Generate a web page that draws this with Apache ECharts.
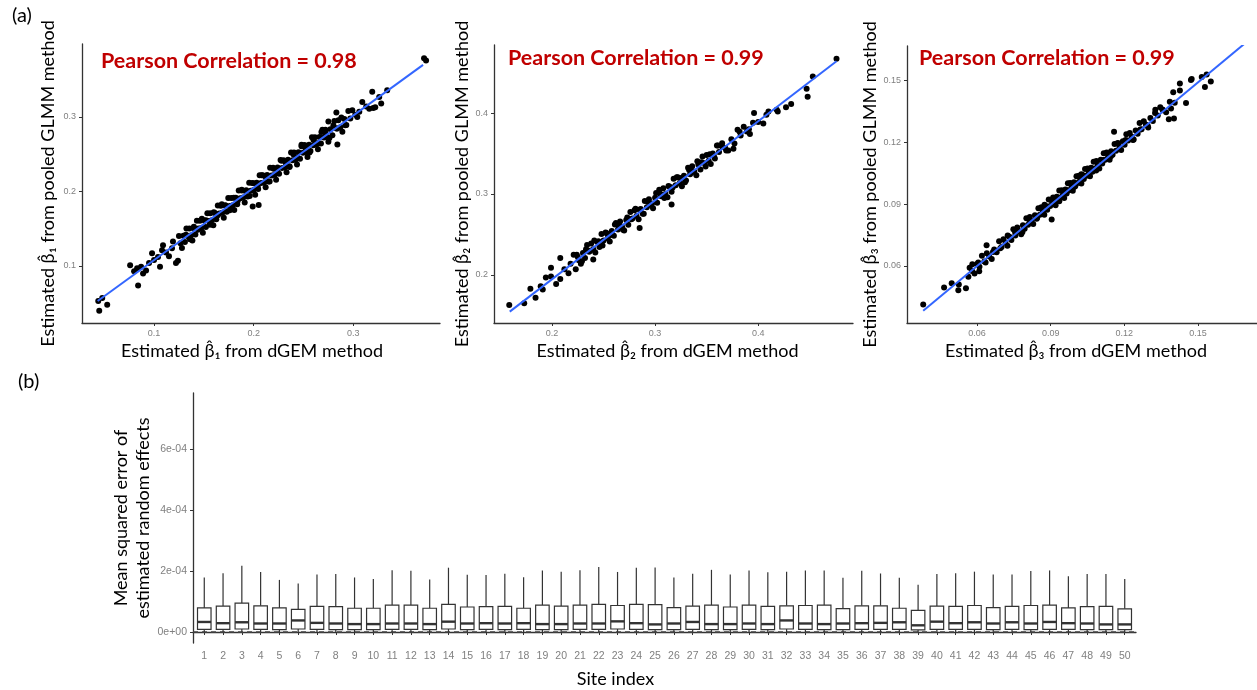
<!DOCTYPE html>
<html>
<head>
<meta charset="utf-8">
<script src="https://cdn.jsdelivr.net/npm/echarts@6/dist/echarts.min.js"></script>
<style>
html, body { margin: 0; padding: 0; background: #fff; }
#main { width: 1257px; height: 690px; }
</style>
</head>
<body>
<div id="main"></div>
<script>
// (a) estimated coefficients: [dGEM, pooled GLMM]
var beta1Points = [
	[0.044,0.053],[0.045,0.040],[0.053,0.048],[0.048,0.057],[0.076,0.101],[0.084,0.074],[0.080,0.093],[0.089,0.090],
	[0.083,0.097],[0.092,0.094],[0.087,0.099],[0.095,0.104],[0.098,0.117],[0.106,0.099],[0.109,0.128],[0.122,0.104],
	[0.119,0.133],[0.100,0.108],[0.104,0.112],[0.112,0.118],[0.115,0.113],[0.118,0.124],[0.108,0.121],[0.124,0.107],
	[0.1250,0.1403],[0.1265,0.1307],[0.1280,0.1242],[0.1295,0.1406],[0.1310,0.1321],[0.1325,0.1505],[0.1340,0.1400],
	[0.1355,0.1504],[0.1370,0.1409],[0.1385,0.1343],[0.1400,0.1508],[0.1415,0.1423],[0.1430,0.1607],[0.1445,0.1502],
	[0.1460,0.1606],[0.1475,0.1511],[0.1490,0.1445],[0.1505,0.1610],[0.1520,0.1524],[0.1535,0.1709],[0.1550,0.1604],
	[0.1565,0.1708],[0.1580,0.1613],[0.1595,0.1547],[0.1610,0.1712],[0.1625,0.1626],[0.1640,0.1811],[0.1655,0.1705],
	[0.1670,0.1810],[0.1685,0.1714],[0.1700,0.1649],[0.1715,0.1814],[0.1730,0.1728],[0.1745,0.1913],[0.1760,0.1807],
	[0.1775,0.1912],[0.1790,0.1816],[0.1805,0.1751],[0.1820,0.1915],[0.1835,0.1830],[0.1850,0.2015],[0.1865,0.1909],
	[0.1880,0.2014],[0.1895,0.1918],[0.1910,0.1853],[0.1925,0.2017],[0.1940,0.1932],[0.1955,0.2116],[0.1970,0.2011],
	[0.1985,0.2115],[0.2000,0.2020],[0.2015,0.1955],[0.2030,0.2119],[0.2045,0.2034],[0.2060,0.2218],[0.2075,0.2113],
	[0.2090,0.2217],[0.2105,0.2122],[0.2120,0.2056],[0.2135,0.2221],[0.2150,0.2136],[0.2165,0.2320],[0.2180,0.2215],
	[0.2195,0.2319],[0.2210,0.2224],[0.2225,0.2158],[0.2240,0.2323],[0.2255,0.2237],[0.2270,0.2422],[0.2285,0.2316],
	[0.2300,0.2421],[0.2315,0.2326],[0.2330,0.2260],[0.2345,0.2425],[0.2360,0.2339],[0.2375,0.2524],[0.2390,0.2418],
	[0.2405,0.2523],[0.2420,0.2427],[0.2435,0.2362],[0.2450,0.2527],[0.2465,0.2441],[0.2480,0.2626],[0.2495,0.2520],
	[0.2510,0.2625],[0.2525,0.2529],[0.2540,0.2464],[0.2555,0.2628],[0.2570,0.2543],[0.2585,0.2727],[0.2600,0.2622],
	[0.2615,0.2727],[0.2630,0.2631],[0.2645,0.2566],[0.2660,0.2730],[0.2675,0.2645],[0.2690,0.2829],[0.2705,0.2724],
	[0.2720,0.2828],[0.2735,0.2733],[0.2750,0.2668],[0.2770,0.2837],[0.2790,0.2756],[0.2810,0.2946],[0.2830,0.2845],
	[0.2850,0.2955],[0.2870,0.2864],[0.2890,0.2803],[0.2910,0.2973],[0.2930,0.2892],[0.2950,0.3082],[0.2970,0.2981],
	[0.2990,0.3090],[0.205,0.182],[0.199,0.180],[0.283,0.306],[0.284,0.263],[0.275,0.294],[0.292,0.289],[0.302,0.303],
	[0.304,0.300],[0.306,0.307],[0.309,0.320],[0.313,0.314],[0.316,0.311],[0.319,0.334],[0.320,0.312],[0.322,0.313],
	[0.326,0.327],[0.328,0.318],[0.334,0.336],[0.371,0.379],[0.373,0.376],
	[0.1320,0.1420],[0.1360,0.1359],[0.1400,0.1528],[0.1440,0.1487],[0.1480,0.1636],[0.1520,0.1614],[0.1560,0.1553],
	[0.1600,0.1722],[0.1640,0.1681],[0.1680,0.1830],[0.1720,0.1808],[0.1760,0.1747],[0.1800,0.1916],[0.1840,0.1875],
	[0.1880,0.2024],[0.1920,0.2002],[0.1960,0.1941],[0.2000,0.2110],[0.2040,0.2069],[0.2080,0.2218],[0.2120,0.2196],
	[0.2160,0.2135],[0.2200,0.2304],[0.2240,0.2263],[0.2280,0.2412],[0.2320,0.2390],[0.2360,0.2329],[0.2400,0.2498],
	[0.2440,0.2457],[0.2480,0.2606],[0.2520,0.2584],[0.2560,0.2523],[0.2600,0.2692],[0.2640,0.2651],[0.2680,0.2800],
	[0.2720,0.2778],[0.2760,0.2717],[0.2800,0.2886],[0.2840,0.2845],[0.2880,0.2994]
];
var beta2Points = [
	[0.1585,0.163],[0.173,0.165],[0.179,0.183],[0.184,0.172],[0.189,0.186],[0.191,0.182],[0.194,0.197],[0.199,0.198],
	[0.199,0.209],[0.204,0.189],[0.208,0.221],[0.208,0.195],[0.216,0.202],[0.223,0.207],[0.221,0.225],[0.212,0.207],
	[0.218,0.214],[0.240,0.219],[0.285,0.258],[0.316,0.287],
	[0.224,0.2251],[0.226,0.2181],[0.228,0.2140],[0.230,0.2270],[0.232,0.2209],[0.234,0.2369],[0.236,0.2288],
	[0.238,0.2388],[0.240,0.2317],[0.242,0.2277],[0.244,0.2406],[0.246,0.2346],[0.248,0.2505],[0.250,0.2425],
	[0.252,0.2525],[0.254,0.2454],[0.256,0.2414],[0.258,0.2543],[0.260,0.2483],[0.262,0.2642],[0.264,0.2562],
	[0.266,0.2661],[0.268,0.2591],[0.270,0.2550],[0.272,0.2680],[0.274,0.2619],[0.276,0.2779],[0.278,0.2698],
	[0.280,0.2798],[0.282,0.2727],[0.284,0.2687],[0.286,0.2816],[0.288,0.2756],[0.290,0.2915],[0.292,0.2835],
	[0.294,0.2934],[0.296,0.2864],[0.298,0.2823],[0.300,0.2953],[0.302,0.2893],[0.304,0.3052],[0.306,0.2972],
	[0.308,0.3071],[0.310,0.3001],[0.312,0.2960],[0.314,0.3090],[0.316,0.3029],[0.318,0.3189],[0.320,0.3108],
	[0.322,0.3208],[0.324,0.3137],[0.326,0.3097],[0.328,0.3226],[0.330,0.3166],[0.332,0.3325],[0.334,0.3245],
	[0.336,0.3344],[0.338,0.3274],[0.340,0.3233],[0.342,0.3363],[0.344,0.3302],[0.346,0.3462],[0.348,0.3381],
	[0.350,0.3481],[0.352,0.3410],[0.354,0.3370],[0.356,0.3500],[0.358,0.3439],[0.360,0.3599],[0.362,0.3518],
	[0.365,0.3627],[0.368,0.3567],[0.371,0.3536],[0.374,0.3675],[0.377,0.3625],[0.380,0.3794],[0.383,0.3723],
	[0.386,0.3832],[0.389,0.3772],[0.392,0.3741],[0.395,0.3880],
	[0.376,0.356],[0.391,0.380],[0.382,0.377],[0.396,0.400],[0.405,0.387],[0.408,0.398],[0.410,0.402],[0.400,0.389],
	[0.418,0.404],[0.419,0.402],[0.427,0.407],[0.432,0.411],[0.447,0.430],[0.448,0.420],[0.453,0.445],[0.476,0.467],
	[0.2250,0.2221],[0.2290,0.2170],[0.2330,0.2319],[0.2370,0.2298],[0.2410,0.2427],[0.2450,0.2416],[0.2490,0.2365],
	[0.2530,0.2514],[0.2570,0.2493],[0.2610,0.2622],[0.2650,0.2611],[0.2690,0.2560],[0.2730,0.2709],[0.2770,0.2689],
	[0.2810,0.2818],[0.2850,0.2807],[0.2890,0.2756],[0.2930,0.2905],[0.2970,0.2884],[0.3010,0.3013],[0.3050,0.3002],
	[0.3090,0.2951],[0.3130,0.3100],[0.3170,0.3079],[0.3210,0.3208],[0.3250,0.3197],[0.3290,0.3146],[0.3330,0.3295],
	[0.3370,0.3274],[0.3410,0.3403],[0.3450,0.3392],[0.3490,0.3341],[0.3530,0.3490],[0.3570,0.3469],[0.3610,0.3598],
	[0.3650,0.3587],[0.3690,0.3536]
];
var beta3Points = [
	[0.0381,0.0413],[0.0466,0.0496],[0.0497,0.0517],[0.0524,0.0482],[0.0526,0.0510],[0.0555,0.0492],[0.0565,0.0548],
	[0.0581,0.0609],[0.0609,0.0574],[0.0639,0.0700],
	[0.0570,0.0592],[0.0580,0.0576],[0.0590,0.0564],[0.0600,0.0610],[0.0610,0.0596],[0.0620,0.0650],[0.0630,0.0622],
	[0.0640,0.0662],[0.0650,0.0646],[0.0660,0.0634],[0.0670,0.0680],[0.0680,0.0666],[0.0690,0.0720],[0.0700,0.0692],
	[0.0708,0.0730],[0.0716,0.0712],[0.0724,0.0698],[0.0732,0.0742],[0.0740,0.0726],[0.0748,0.0778],[0.0756,0.0748],
	[0.0764,0.0786],[0.0772,0.0768],[0.0780,0.0754],[0.0787,0.0797],[0.0794,0.0780],[0.0801,0.0831],[0.0808,0.0800],
	[0.0815,0.0837],[0.0822,0.0818],[0.0829,0.0803],[0.0836,0.0846],[0.0843,0.0829],[0.0850,0.0880],[0.0856,0.0848],
	[0.0862,0.0884],[0.0868,0.0864],[0.0874,0.0848],[0.0880,0.0890],[0.0886,0.0872],[0.0892,0.0922],[0.0898,0.0890],
	[0.0904,0.0825],[0.0910,0.0932],[0.0915,0.0911],[0.0920,0.0894],[0.0925,0.0935],[0.0930,0.0916],[0.0935,0.0965],
	[0.0940,0.0932],[0.0945,0.0967],[0.0950,0.0946],[0.0955,0.0929],[0.0960,0.0970],[0.0965,0.0951],[0.0970,0.1000],
	[0.0975,0.0967],[0.0980,0.1002],[0.0985,0.0981],[0.0990,0.0964],[0.0995,0.1005],[0.1000,0.0986],[0.1005,0.1035],
	[0.1010,0.1002],[0.1015,0.1037],[0.1020,0.1016],[0.1025,0.0999],[0.1030,0.1040],[0.1035,0.1021],[0.1040,0.1070],
	[0.1045,0.1037],[0.1050,0.1072],[0.1055,0.1051],[0.1060,0.1034],[0.1065,0.1075],[0.1070,0.1056],[0.1075,0.1105],
	[0.1080,0.1072],[0.1086,0.1108],[0.1092,0.1088],[0.1098,0.1072],[0.1104,0.1114],[0.1110,0.1096],[0.1116,0.1146],
	[0.1122,0.1114],[0.1128,0.1150],[0.1134,0.1130],[0.1140,0.1114],[0.1146,0.1156],[0.1152,0.1138],[0.1158,0.1250],
	[0.1160,0.1190],[0.1166,0.1158],[0.1173,0.1195],[0.1180,0.1176],[0.1187,0.1161],[0.1194,0.1204],[0.1201,0.1187],
	[0.1208,0.1238],[0.1215,0.1207],[0.1222,0.1244],[0.1230,0.1226],[0.1238,0.1212],[0.1246,0.1256],[0.1254,0.1240],
	[0.1262,0.1292],[0.1270,0.1262],[0.1279,0.1301],[0.1288,0.1284],[0.1297,0.1271],[0.1306,0.1316],[0.1316,0.1302],
	[0.1326,0.1356],[0.1336,0.1328],[0.1346,0.1368],[0.1358,0.1354],[0.1370,0.1344],[0.1381,0.1310],[0.1385,0.1395],
	[0.1399,0.1441],[0.1402,0.1314],[0.1405,0.1390],[0.1426,0.1449],[0.1426,0.1484],[0.1451,0.1389],[0.1471,0.1501],
	[0.1474,0.1505],[0.1515,0.1515],[0.1528,0.1467],[0.1535,0.1527],[0.1552,0.1493],[0.1691,0.1701],
	[0.0605,0.0617],[0.0635,0.0617],[0.0665,0.0668],[0.0695,0.0686],[0.0725,0.0748],[0.0755,0.0765],[0.0785,0.0765],
	[0.0815,0.0817],[0.0845,0.0834],[0.0875,0.0896],[0.0905,0.0914],[0.0935,0.0913],[0.0965,0.0965],[0.0995,0.0983],
	[0.1025,0.1044],[0.1055,0.1062],[0.1085,0.1062],[0.1115,0.1113],[0.1145,0.1131],[0.1175,0.1193],[0.1205,0.1210],
	[0.1235,0.1210],[0.1265,0.1261],[0.1295,0.1279],[0.1325,0.1341],[0.1355,0.1358],[0.1390,0.1363]
];
// fitted lines, end points
var beta1Fit = [[0.0434,0.053],[0.370,0.370]];
var beta2Fit = [[0.159,0.1547],[0.476,0.464]];
var beta3Fit = [[0.0381,0.0383],[0.1688,0.1675]];

var beta1Ticks = [0.1, 0.2, 0.3];
var beta2Ticks = [0.2, 0.3, 0.4];
var beta3Ticks = [0.06, 0.09, 0.12, 0.15];
var pearsonText = ["Pearson Correlation = 0.98", "Pearson Correlation = 0.99", "Pearson Correlation = 0.99"];

// (b) MSE of random effects per site, in units of 1e-4
var sites = [1,2,3,4,5,6,7,8,9,10,11,12,13,14,15,16,17,18,19,20,21,22,23,24,25,
	26,27,28,29,30,31,32,33,34,35,36,37,38,39,40,41,42,43,44,45,46,47,48,49,50];
var mseMax = [1.79,1.93,2.17,1.97,1.71,1.59,1.89,1.90,1.79,1.74,2.03,2.01,1.72,2.11,1.88,1.87,1.91,1.80,2.02,1.98,2.03,2.13,1.97,2.11,2.12,
	1.79,1.91,2.04,1.89,2.02,1.96,1.98,2.02,2.02,1.78,2.01,1.92,1.78,1.55,1.90,1.93,1.98,1.89,1.89,2.00,2.02,1.83,1.90,1.90,1.74];
var mseQ3 = [0.79,0.85,0.95,0.86,0.79,0.74,0.84,0.83,0.78,0.78,0.88,0.88,0.78,0.91,0.82,0.83,0.84,0.78,0.88,0.85,0.88,0.91,0.87,0.91,0.90,
	0.80,0.85,0.88,0.82,0.88,0.84,0.86,0.87,0.88,0.77,0.86,0.86,0.78,0.71,0.85,0.84,0.87,0.80,0.84,0.87,0.88,0.79,0.83,0.84,0.76];
var mseMedian = [0.33,0.29,0.32,0.28,0.28,0.38,0.30,0.28,0.26,0.26,0.28,0.28,0.26,0.34,0.28,0.29,0.28,0.29,0.26,0.26,0.28,0.28,0.35,0.29,0.25,
	0.28,0.33,0.26,0.26,0.28,0.26,0.38,0.28,0.26,0.28,0.29,0.30,0.32,0.22,0.34,0.29,0.32,0.28,0.32,0.28,0.33,0.29,0.28,0.25,0.25];
var mseQ1 = [0.09,0.09,0.10,0.09,0.08,0.10,0.09,0.08,0.08,0.08,0.09,0.09,0.08,0.10,0.08,0.09,0.08,0.09,0.08,0.08,0.09,0.09,0.10,0.09,0.08,
	0.08,0.09,0.08,0.08,0.09,0.08,0.10,0.09,0.08,0.08,0.09,0.09,0.09,0.07,0.09,0.09,0.09,0.08,0.09,0.08,0.09,0.09,0.08,0.08,0.08];
var mseMin = [0,0,0,0,0,0,0,0,0,0,0,0,0,0,0,0,0,0,0,0,0,0,0,0,0,0,0,0,0,0,0,0,0,0,0,0,0,0,0,0,0,0,0,0,0,0,0,0,0,0];
var mseTicks = [0, 2, 4, 6];
var mseTickLabels = ["0e+00", "2e-04", "4e-04", "6e-04"];

var myChart = echarts.init(document.getElementById("main"));

var titleFont = "Lato, 'DejaVu Sans', sans-serif";
var axisDark = "#333333";
var tickGrey = "#808080";

function scatterAxis(gi, min, max, ticks, name, gap, pad) {
	return {
		type: "value", gridIndex: gi, min: min, max: max,
		name: name, nameLocation: "middle", nameGap: gap,
		nameTextStyle: { fontFamily: titleFont, fontSize: 18, color: "#000", padding: pad || 0 },
		axisLine: { show: true, lineStyle: { color: axisDark, width: 1.3 } },
		axisTick: { show: true, length: 3, customValues: ticks, lineStyle: { color: axisDark } },
		axisLabel: { customValues: ticks, color: tickGrey, fontSize: 9, fontFamily: "Liberation Sans", margin: 6 },
		splitLine: { show: false }
	};
}

function dots(gi, data) {
	return { type: "scatter", xAxisIndex: gi, yAxisIndex: gi, data: data, symbolSize: 6,
		itemStyle: { color: "#000", opacity: 1 } };
}

function fitLine(gi, data) {
	return { type: "line", xAxisIndex: gi, yAxisIndex: gi, data: data, showSymbol: false, z: 5,
		lineStyle: { color: "#3366FF", width: 2 } };
}

var boxData = [];
for (var i = 0; i < sites.length; i++) {
	boxData.push([sites[i], mseMin[i], mseQ1[i], mseMedian[i], mseQ3[i], mseMax[i]]);
}

function renderBox(params, api) {
	var x = api.value(0);
	var lo = api.coord([x, api.value(1)]);
	var q1 = api.coord([x, api.value(2)]);
	var med = api.coord([x, api.value(3)]);
	var q3 = api.coord([x, api.value(4)]);
	var hi = api.coord([x, api.value(5)]);
	var w = api.size([0.72, 0])[0];
	var st = { stroke: axisDark, lineWidth: 1.2, fill: null };
	return {
		type: "group",
		children: [
			{ type: "line", shape: { x1: hi[0], y1: hi[1], x2: q3[0], y2: q3[1] }, style: st },
			{ type: "line", shape: { x1: q1[0], y1: q1[1], x2: lo[0], y2: lo[1] }, style: st },
			{ type: "rect", shape: { x: q3[0] - w / 2, y: q3[1], width: w, height: q1[1] - q3[1] },
				style: { stroke: axisDark, lineWidth: 1.2, fill: "#fff" } },
			{ type: "line", shape: { x1: med[0] - w / 2, y1: med[1], x2: med[0] + w / 2, y2: med[1] },
				style: { stroke: axisDark, lineWidth: 2.4 } }
		]
	};
}

var option = {
	backgroundColor: "#fff",
	animation: false,
	grid: [
		{ left: 82, top: 44, width: 358, height: 279 },
		{ left: 494, top: 45, width: 359, height: 278 },
		{ left: 907, top: 46, width: 350, height: 277 },
		{ left: 193, top: 393, width: 943, height: 250 }
	],
	xAxis: [
		scatterAxis(0, 0.0277, 0.387, beta1Ticks, "Estimated \u03B2\u0302\u2081 from dGEM method", 19, [0, 18, 0, 0]),
		scatterAxis(1, 0.1437, 0.492, beta2Ticks, "Estimated \u03B2\u0302\u2082 from dGEM method", 19, [0, 12, 0, 0]),
		scatterAxis(2, 0.0315, 0.174, beta3Ticks, "Estimated \u03B2\u0302\u2083 from dGEM method", 19, [0, 12, 0, 0]),
		{
			type: "value", gridIndex: 3, min: 0.4, max: 50.6,
			name: "Site index", nameLocation: "middle", nameGap: 27,
			nameTextStyle: { fontFamily: titleFont, fontSize: 18, color: "#000", padding: [0, 98, 0, 0] },
			axisLine: { show: true, lineStyle: { color: axisDark, width: 1.3 } },
			axisTick: { show: true, length: 3, customValues: sites, lineStyle: { color: axisDark } },
			axisLabel: { customValues: sites, color: tickGrey, fontSize: 10.5, fontFamily: "Liberation Sans", margin: 8 },
			splitLine: { show: false }
		}
	],
	yAxis: [
		scatterAxis(0, 0.0235, 0.398, beta1Ticks, "Estimated \u03B2\u0302\u2081 from pooled GLMM method", 25),
		scatterAxis(1, 0.1407, 0.484, beta2Ticks, "Estimated \u03B2\u0302\u2082 from pooled GLMM method", 22),
		scatterAxis(2, 0.0324, 0.1665, beta3Ticks, "Estimated \u03B2\u0302\u2083 from pooled GLMM method", 25),
		{
			type: "value", gridIndex: 3, min: -0.36, max: 7.84,
			name: "Mean squared error of\nestimated random effects", nameLocation: "middle", nameGap: 39,
			nameMoveOverlap: false,
			nameTextStyle: { fontFamily: titleFont, fontSize: 18, color: "#000", lineHeight: 22 },
			axisLine: { show: true, lineStyle: { color: axisDark, width: 1.3 } },
			axisTick: { show: true, length: 3, customValues: mseTicks, lineStyle: { color: axisDark } },
			axisLabel: {
				customValues: mseTicks, color: tickGrey, fontSize: 10.5, fontFamily: "Liberation Sans", margin: 6,
				formatter: function (v) { return mseTickLabels[mseTicks.indexOf(v)]; }
			},
			splitLine: { show: false }
		}
	],
	series: [
		dots(0, beta1Points), fitLine(0, beta1Fit),
		dots(1, beta2Points), fitLine(1, beta2Fit),
		dots(2, beta3Points), fitLine(2, beta3Fit),
		{ type: "line", xAxisIndex: 3, yAxisIndex: 3, data: [[0.4, 0], [50.6, 0]], showSymbol: false, z: 1,
			lineStyle: { color: "#444", width: 1.5, type: [5, 4] } },
		{ type: "custom", xAxisIndex: 3, yAxisIndex: 3, data: boxData, renderItem: renderBox, z: 3 }
	],
	graphic: [
		{ type: "text", left: 12, top: 6, style: { text: "(a)", fontSize: 20, fontFamily: titleFont, fill: "#000" } },
		{ type: "text", left: 18, top: 372, style: { text: "(b)", fontSize: 20, fontFamily: titleFont, fill: "#000" } },
		{ type: "text", left: 101, top: 50, style: { text: pearsonText[0], fontSize: 21.5, fontWeight: "bold", fontFamily: titleFont, fill: "#C00000" } },
		{ type: "text", left: 508, top: 47, style: { text: pearsonText[1], fontSize: 21.5, fontWeight: "bold", fontFamily: titleFont, fill: "#C00000" } },
		{ type: "text", left: 919, top: 47, style: { text: pearsonText[2], fontSize: 21.5, fontWeight: "bold", fontFamily: titleFont, fill: "#C00000" } }
	]
};
myChart.setOption(option);
</script>
</body>
</html>
